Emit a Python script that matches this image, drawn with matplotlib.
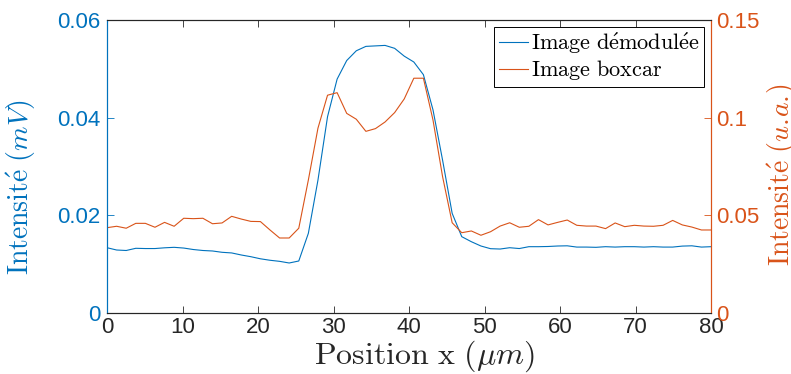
import matplotlib
matplotlib.use('Agg')
import matplotlib.pyplot as plt
import numpy as np

plt.rcParams['font.family'] = ['Liberation Sans', 'DejaVu Sans']
plt.rcParams['mathtext.fontset'] = 'cm'

# 64 points sur 80 um
position = np.linspace(0, 80, 64)

demod = [0.01337, 0.0129, 0.0128, 0.01325, 0.0132, 0.0132, 0.01335, 0.01345,
         0.0133, 0.0130, 0.0128, 0.0127, 0.01243, 0.0123, 0.01188, 0.01153,
         0.0111, 0.0108, 0.01058, 0.01024, 0.01065, 0.01632, 0.0272, 0.0402,
         0.0479, 0.0517, 0.0537, 0.0546, 0.0547, 0.0548, 0.0542, 0.0526,
         0.0514, 0.0488, 0.0416, 0.0313, 0.0204, 0.01563, 0.0146, 0.01372,
         0.01317, 0.0131, 0.01337, 0.0132, 0.01358, 0.01358, 0.01362, 0.01372,
         0.01376, 0.0135, 0.0135, 0.01345, 0.01358, 0.0135, 0.01358, 0.01358,
         0.0135, 0.01358, 0.0135, 0.0135, 0.0137, 0.01376, 0.0135, 0.01358]

boxcar = [0.04368, 0.0444, 0.0434, 0.0459, 0.0459, 0.0439, 0.0464, 0.0444,
          0.0485, 0.0483, 0.0485, 0.0457, 0.0461, 0.0495, 0.0481, 0.0469,
          0.0468, 0.0425, 0.0384, 0.0384, 0.0434, 0.0681, 0.0946, 0.1115,
          0.1128, 0.1022, 0.0992, 0.0930, 0.0944, 0.0978, 0.1026, 0.1096,
          0.1202, 0.1202, 0.0988, 0.0698, 0.0462, 0.0411, 0.0420, 0.0398,
          0.0416, 0.0445, 0.0462, 0.0439, 0.0444, 0.0478, 0.0451, 0.0464,
          0.0476, 0.0449, 0.0445, 0.0445, 0.0432, 0.0461, 0.0442, 0.0449,
          0.0445, 0.0444, 0.0449, 0.0474, 0.0451, 0.0440, 0.0425, 0.0425]

blue = '#0072BD'
orange = '#D95319'
dark = '#262626'

fig = plt.figure(figsize=[7.91, 3.74], dpi=100)
ax = fig.add_axes([0.1353, 0.1631, 0.7636, 0.7834])
ax2 = ax.twinx()

l1, = ax.plot(position, demod, color=blue, lw=0.8, label=r'$\mathrm{Image\ d\acute{e}modul\acute{e}e}$')
l2, = ax2.plot(position, boxcar, color=orange, lw=0.8, label=r'$\mathrm{Image\ boxcar}$')

ax.set_xlim(0, 80)
ax.set_ylim(0, 0.06)
ax2.set_ylim(0, 0.15)
ax.set_xticks(np.arange(0, 81, 10))
ax.set_yticks([0, 0.02, 0.04, 0.06])
ax.set_yticklabels(['0', '0.02', '0.04', '0.06'])
ax2.set_yticks([0, 0.05, 0.1, 0.15])
ax2.set_yticklabels(['0', '0.05', '0.1', '0.15'])

ax.tick_params(axis='x', direction='in', top=True, length=5, width=0.6,
               colors=dark, labelsize=16, pad=3)
ax.tick_params(axis='y', direction='in', length=5, width=0.6,
               colors=blue, labelsize=16, pad=5)
ax2.tick_params(axis='y', direction='in', length=5, width=0.6,
                colors=orange, labelsize=16, pad=4)

for a in (ax, ax2):
    a.spines['top'].set_color(dark)
    a.spines['bottom'].set_color(dark)
    a.spines['left'].set_color(blue)
    a.spines['right'].set_color(orange)
    for s in a.spines.values():
        s.set_linewidth(0.8)

ax.set_xlabel(r'$\mathrm{Position\ x\ }(\mu m)$', fontsize=23, color=dark)
ax.set_ylabel(r'$\mathrm{Intensit\acute{e}}\ (mV)$', fontsize=20, color=blue)
ax2.set_ylabel(r'$\mathrm{Intensit\acute{e}}\ (u.\!a.\!)$', fontsize=20, color=orange,
               rotation=90)
ax.xaxis.set_label_coords(0.525, -0.087)
ax.yaxis.set_label_coords(-0.115, 0.43)
ax2.yaxis.set_label_coords(1.09, 0.47)

leg = ax2.legend(handles=[l1, l2], loc='upper right', fontsize=16,
                 fancybox=False, edgecolor='black', framealpha=1,
                 borderpad=0.2, handlelength=1.3, handletextpad=0.15,
                 labelspacing=0.1, borderaxespad=0.3)
leg.get_frame().set_linewidth(0.7)

fig.savefig('out.png', dpi=100)
